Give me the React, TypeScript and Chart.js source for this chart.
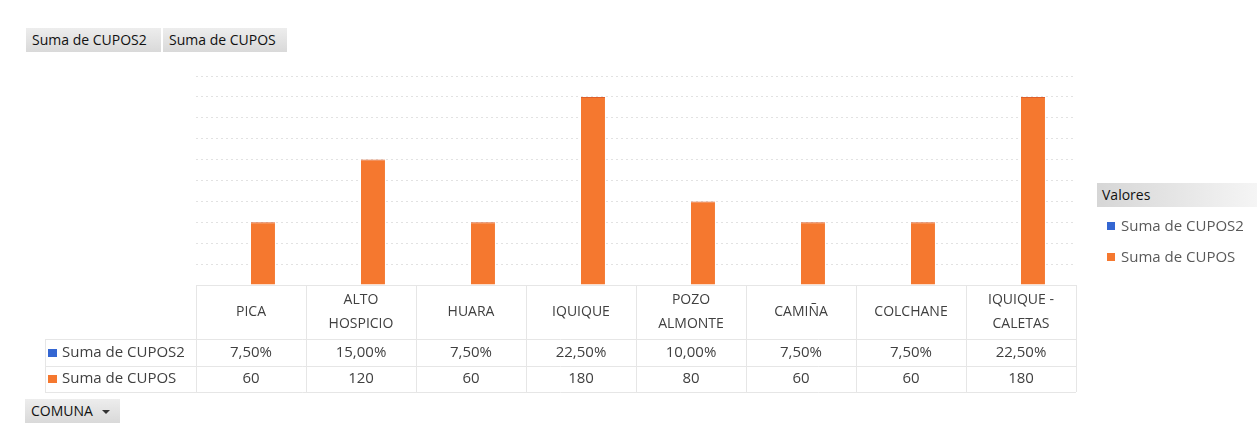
import { useEffect, useRef } from "react";
import { Chart, registerables } from "chart.js";

Chart.register(...registerables);

// ---- data ----
const categories: string[][] = [
  ["PICA"],
  ["ALTO", "HOSPICIO"],
  ["HUARA"],
  ["IQUIQUE"],
  ["POZO", "ALMONTE"],
  ["CAMIÑA"],
  ["COLCHANE"],
  ["IQUIQUE -", "CALETAS"],
];
const seriesNames = ["Suma de CUPOS2", "Suma de CUPOS"];
const cupos2 = [0.075, 0.15, 0.075, 0.225, 0.1, 0.075, 0.075, 0.225];
const cupos = [60, 120, 60, 180, 80, 60, 60, 180];
const yMax = 200;
const yStep = 20;
const topButtons = ["Suma de CUPOS2", "Suma de CUPOS"];
const fieldButton = "COMUNA";
const legendTitle = "Valores";

const BLUE = "#3466d2";
const ORANGE = "#f5782f";
const FONT = '"Open Sans", sans-serif';

const fmtPct = (v: number) => (v * 100).toFixed(2).replace(".", ",") + "%";
const fmtNum = (v: number) => String(v);

const tablePlugin = {
  id: "dataTable",
  afterDraw(chart: any) {
    const { ctx, chartArea } = chart;
    const x = chart.scales.x;
    const n = categories.length;
    const left = chartArea.left;
    const right = chartArea.right;
    const colW = (right - left) / n;
    const top = chartArea.bottom;
    const headerBottom = top + 54;
    const row1Bottom = headerBottom + 27;
    const row2Bottom = row1Bottom + 26;
    const labelLeft = 45;
    const p = (v: number) => Math.round(v) + 0.5;

    ctx.save();
    ctx.strokeStyle = "#e6e6e6";
    ctx.lineWidth = 1;
    ctx.beginPath();
    ctx.moveTo(left, p(top));
    ctx.lineTo(right, p(top));
    [headerBottom, row1Bottom, row2Bottom].forEach((yy) => {
      ctx.moveTo(labelLeft, p(yy));
      ctx.lineTo(right, p(yy));
    });
    for (let i = 0; i <= n; i++) {
      const xx = p(left + i * colW);
      ctx.moveTo(xx, top);
      ctx.lineTo(xx, row2Bottom);
    }
    ctx.moveTo(p(labelLeft), headerBottom);
    ctx.lineTo(p(labelLeft), row2Bottom);
    ctx.stroke();

    // header (category labels)
    ctx.fillStyle = "#404040";
    ctx.textAlign = "center";
    ctx.textBaseline = "middle";
    ctx.font = `14px ${FONT}`;
    const hc = (top + headerBottom) / 2;
    const lh = 24;
    categories.forEach((lines, i) => {
      const cx = x.getPixelForValue(i);
      const y0 = hc - ((lines.length - 1) * lh) / 2;
      lines.forEach((ln, j) => ctx.fillText(ln, cx, y0 + j * lh));
    });

    // rows
    const rows = [
      { name: seriesNames[0], color: BLUE, vals: cupos2.map(fmtPct), y: (headerBottom + row1Bottom) / 2 },
      { name: seriesNames[1], color: ORANGE, vals: cupos.map(fmtNum), y: (row1Bottom + row2Bottom) / 2 },
    ];
    ctx.font = `15px ${FONT}`;
    rows.forEach((r) => {
      ctx.fillStyle = r.color;
      ctx.fillRect(48, Math.round(r.y - 4), 9, 8);
      ctx.fillStyle = "#404040";
      ctx.textAlign = "left";
      ctx.fillText(r.name, 62, r.y);
      ctx.textAlign = "center";
      r.vals.forEach((v, i) => ctx.fillText(v, x.getPixelForValue(i), r.y));
    });
    ctx.restore();
  },
};

export default function App() {
  const ref = useRef<HTMLCanvasElement | null>(null);

  useEffect(() => {
    if (!ref.current) return;
    const chart = new Chart(ref.current, {
      type: "bar",
      data: {
        labels: categories.map((c) => c.join(" ")),
        datasets: [
          {
            label: seriesNames[0],
            data: cupos2,
            backgroundColor: BLUE,
            inflateAmount: 0,
            clip: { left: 0, top: 0, right: 0, bottom: -1 },
            categoryPercentage: 0.436,
            barPercentage: 1,
          },
          {
            label: seriesNames[1],
            data: cupos,
            backgroundColor: ORANGE,
            borderColor: "#e0602a",
            borderWidth: { top: 1, bottom: 1, left: 0, right: 0 },
            categoryPercentage: 0.436,
            barPercentage: 1,
          },
        ],
      },
      options: {
        animation: false,
        responsive: true,
        maintainAspectRatio: false,
        layout: { padding: { left: 196, right: 181, top: 76, bottom: 145 } },
        plugins: {
          legend: { display: false },
          tooltip: { enabled: false },
        },
        scales: {
          x: { display: false },
          y: {
            min: 0,
            max: yMax,
            ticks: { display: false, stepSize: yStep },
            grid: { color: "#e2e2e2", drawTicks: false },
            border: { display: false, dash: [2, 3] },
            afterFit: (s: any) => {
              s.width = 0;
            },
          },
        },
      },
      plugins: [tablePlugin],
    });
    return () => chart.destroy();
  }, []);

  const btn: any = {
    position: "absolute",
    height: 24,
    lineHeight: "24px",
    fontSize: 14,
    color: "#111",
    background: "linear-gradient(#ededed, #d9d9d9)",
    boxSizing: "border-box",
    paddingLeft: 6,
    whiteSpace: "nowrap",
  };

  return (
    <div style={{ position: "absolute", left: 0, top: 0, width: 1257, height: 430, fontFamily: FONT, background: "#fff" }}>
      <div style={{ position: "absolute", left: 0, top: 0, width: 1257, height: 430 }}>
        <canvas ref={ref} />
      </div>
      <div style={{ ...btn, left: 26, top: 28, width: 135 }}>{topButtons[0]}</div>
      <div style={{ ...btn, left: 163, top: 28, width: 124 }}>{topButtons[1]}</div>
      <div style={{ ...btn, left: 25, top: 399, width: 95 }}>
        {fieldButton}
        <span
          style={{
            display: "inline-block",
            marginLeft: 9,
            verticalAlign: "middle",
            width: 0,
            height: 0,
            borderLeft: "4px solid transparent",
            borderRight: "4px solid transparent",
            borderTop: "4px solid #333",
          }}
        />
      </div>
      <div
        style={{
          ...btn,
          left: 1097,
          top: 183,
          width: 160,
          paddingLeft: 5,
          background: "linear-gradient(to right, #d6d6d6, #f5f5f5)",
        }}
      >
        {legendTitle}
      </div>
      {seriesNames.map((name, i) => (
        <div key={name} style={{ position: "absolute", left: 1107, top: 214 + i * 31, height: 22, lineHeight: "22px", fontSize: 15, color: "#595959", whiteSpace: "nowrap" }}>
          <span style={{ display: "inline-block", width: 8, height: 8, background: i === 0 ? BLUE : ORANGE, marginRight: 6, verticalAlign: "middle", position: "relative", top: -1 }} />
          {name}
        </div>
      ))}
    </div>
  );
}
